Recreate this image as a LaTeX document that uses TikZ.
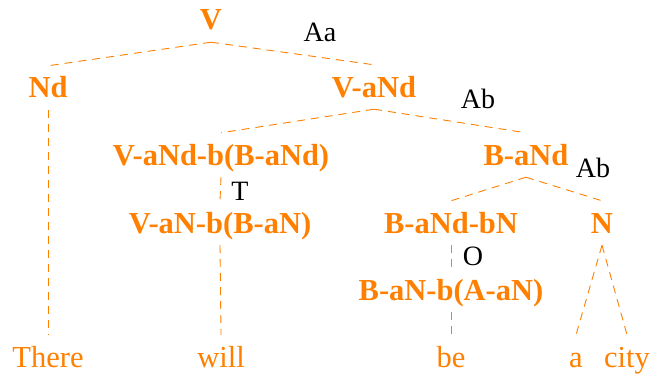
\documentclass[tikz,border=0pt]{standalone}
\usepackage{fontspec}
\setmainfont{Liberation Serif}
\usepackage{xcolor}
\usepackage{tikz}
\definecolor{treeorange}{RGB}{255,128,0}
\tikzset{
  cat/.style={anchor=base, text=treeorange, font=\fontsize{30.5}{36}\selectfont\bfseries,
              text height=20pt, text depth=0pt, inner xsep=2pt, inner ysep=12pt},
  word/.style={anchor=base, text=treeorange, font=\fontsize{30.5}{36}\selectfont,
               text height=20pt, text depth=0pt, inner xsep=2pt, inner ysep=12pt},
  lab/.style={anchor=base, text=black, font=\fontsize{28}{33}\selectfont, inner sep=0pt},
  br/.style={draw=treeorange, line width=0.9pt, dash pattern=on 8pt off 6pt}
}
\begin{document}
\begin{tikzpicture}[x=1pt,y=-1pt]
  \useasboundingbox (0,0) rectangle (652,377);
  % categories
  \node[cat] (v) at (211,30) {V};
  \node[cat] (nd) at (48,98) {Nd};
  \node[cat] (vand) at (374,97) {V-aNd};
  \node[cat] (vandb) at (221,165) {V-aNd-b(B-aNd)};
  \node[cat] (vanb) at (220,233) {V-aN-b(B-aN)};
  \node[cat] (band) at (526,165) {B-aNd};
  \node[cat] (bandbn) at (451,233) {B-aNd-bN};
  \node[cat] (n) at (602,233) {N};
  \node[cat] (banb) at (451,300) {B-aN-b(A-aN)};
  % words
  \node[word] (there) at (48,367) {There};
  \node[word] (will) at (221,367) {will};
  \node[word] (be) at (451,367) {be};
  \node[word] (a) at (576,367) {a};
  \node[word] (city) at (627,367) {city};
  % rule labels
  \node[lab] (laa) at (320,42) {Aa};
  \node[lab] (lab1) at (478,109) {Ab};
  \node[lab] (lab2) at (593,177) {Ab};
  \node[lab] (lt) at (240,200) {T};
  \node[lab] (lo) at (473,265) {O};
  % branches
  \draw[br] (v.south) -- (nd.north);
  \draw[br] (v.south) -- (vand.north);
  \draw[br] (nd.south) -- (there.north);
  \draw[br] (vand.south) -- (vandb.north);
  \draw[br] (vand.south) -- (band.north);
  \draw[br] (vandb.south) -- (vanb.north);
  \draw[br] (vanb.south) -- (will.north);
  \draw[br] (band.south) -- (bandbn.north);
  \draw[br] (band.south) -- (n.north);
  \draw[br] (bandbn.south) -- (banb.north);
  \draw[br] (banb.south) -- (be.north);
  \draw[br] (n.south) -- (a.north);
  \draw[br] (n.south) -- (city.north);
\end{tikzpicture}
\end{document}
